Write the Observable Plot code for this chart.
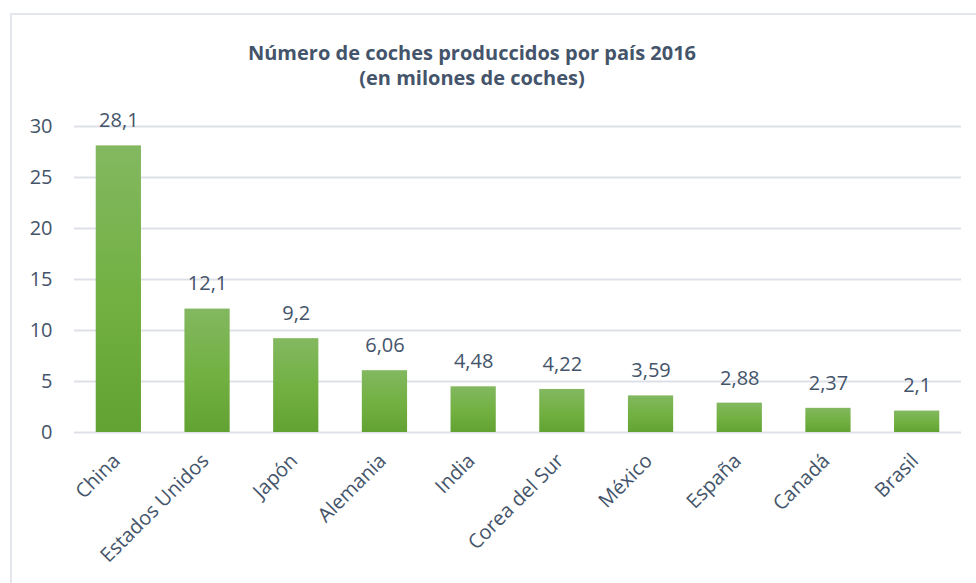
<!DOCTYPE html>
<html>
<head>
<meta charset="utf-8">
<script src="https://cdn.jsdelivr.net/npm/d3@7"></script>
<script src="https://cdn.jsdelivr.net/npm/@observablehq/plot@0.6"></script>
<style>
  html, body { margin: 0; padding: 0; background: #fff; }
  #wrap { position: relative; width: 976px; height: 583px; overflow: hidden; font-family: "Open Sans", sans-serif; }
  #frame { position: absolute; left: 10px; top: 13px; width: 1000px; height: 700px; border-left: 2px solid #e3e7ed; border-top: 2px solid #e3e7ed; box-sizing: border-box; }
  #title { position: absolute; left: 0; width: 944px; top: 40px; text-align: center; font-weight: bold; font-size: 20px; line-height: 25px; color: #44546a; }
  #chart { position: absolute; left: 0; top: 0; }
</style>
</head>
<body>
<div id="wrap">
  <div id="frame"></div>
  <div id="title">Número de coches produccidos por país 2016<br>(en milones de coches)</div>
  <div id="chart"></div>
</div>
<script>
const countries = ["China", "Estados Unidos", "Japón", "Alemania", "India", "Corea del Sur", "México", "España", "Canadá", "Brasil"];
const values = [28.1, 12.1, 9.2, 6.06, 4.48, 4.22, 3.59, 2.88, 2.37, 2.1];
const yTicks = [0, 5, 10, 15, 20, 25, 30];

const data = countries.map((c, i) => ({country: c, value: values[i]}));
const fmt = v => String(v).replace(".", ",");
const textColor = "#44546a";

const plot = Plot.plot({
  width: 976,
  height: 583,
  marginTop: 126,
  marginBottom: 151,
  marginLeft: 74,
  marginRight: 15,
  style: {fontFamily: "'Open Sans', sans-serif", fontSize: "20px", background: "transparent", color: textColor},
  x: {domain: countries, paddingInner: 0.49, paddingOuter: 0.245, round: false, label: null},
  y: {domain: [0, 30], label: null},
  marks: [
    Plot.ruleY(yTicks, {stroke: "#dde1e7", strokeWidth: 2}),
    Plot.barY(data, {x: "country", y: "value", fill: "url(#barGrad)"}),
    Plot.text(data, {x: "country", y: "value", text: d => fmt(d.value), dy: -25, fontSize: 20, fill: textColor}),
    Plot.axisY({ticks: yTicks, tickSize: 0, tickPadding: 22, fontSize: 20, label: null, fill: textColor}),
    Plot.axisX({tickSize: 0, tickPadding: 25, dx: -2, tickRotate: -45, fontSize: 20, label: null, fill: textColor})
  ]
});

const ns = "http://www.w3.org/2000/svg";
const defs = document.createElementNS(ns, "defs");
const grad = document.createElementNS(ns, "linearGradient");
grad.setAttribute("id", "barGrad");
grad.setAttribute("x1", "0"); grad.setAttribute("y1", "0");
grad.setAttribute("x2", "0"); grad.setAttribute("y2", "1");
[["0%", "#83b860"], ["55%", "#71b041"], ["100%", "#62a233"]].forEach(([o, c]) => {
  const s = document.createElementNS(ns, "stop");
  s.setAttribute("offset", o); s.setAttribute("stop-color", c);
  grad.appendChild(s);
});
defs.appendChild(grad);
plot.insertBefore(defs, plot.firstChild);
document.getElementById("chart").appendChild(plot);
</script>
</body>
</html>
